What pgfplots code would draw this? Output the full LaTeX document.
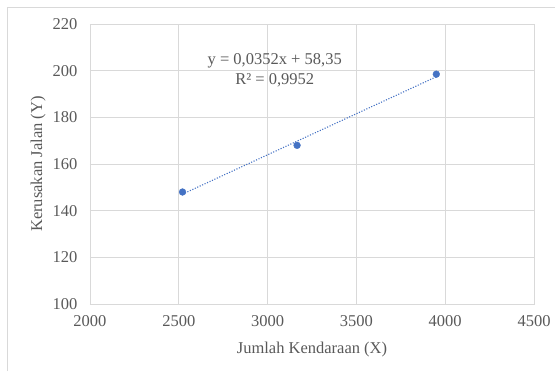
\documentclass[border=0pt]{standalone}
\usepackage{pgfplots}
\pgfplotsset{compat=1.18}
\usepackage{fontspec}
\setmainfont{Liberation Serif}
\definecolor{txt}{HTML}{595959}
\definecolor{grd}{HTML}{D9D9D9}
\definecolor{blu}{HTML}{4472C4}
\begin{document}
\begin{tikzpicture}
\path[use as bounding box] (-90pt,-68pt) rectangle (466pt,304pt);
\draw[grd, line width=0.8pt] (-83pt,-67pt) -- (-83pt,297pt) -- (465pt,297pt);
\begin{axis}[
  at={(0,0)}, anchor=south west,
  scale only axis, width=444pt, height=280pt,
  xmin=2000, xmax=4500, ymin=100, ymax=220,
  xtick={2000,2500,...,4500}, ytick={100,120,...,220},
  grid=major, major grid style={grd, line width=0.9pt},
  axis line style={grd, line width=0.9pt},
  tick style={draw=none},
  ticklabel style={font=\fontsize{16.5}{19}\selectfont, text=txt},
  /pgf/number format/assume math mode=true,
  /pgf/number format/set thousands separator={},
  xticklabel style={yshift=-8pt},
  yticklabel style={xshift=-9pt},
  label style={font=\fontsize{16.5}{19}\selectfont, text=txt},
  xlabel={Jumlah Kendaraan (X)},
  ylabel={Kerusakan Jalan (Y)},
  xlabel style={at={(axis description cs:0.5,-0.161)}, anchor=center},
  ylabel style={at={(axis description cs:-0.117,0.5)}, anchor=center},
  clip=false,
]
\addplot[blu, line width=1.1pt, dash pattern=on 1.1pt off 1.6pt] coordinates {(2521,147.09) (3950,197.39)};
\addplot[only marks, mark=*, mark size=3.4pt, blu, mark options={fill=blu, draw=blu, solid}] coordinates {(2521,148) (3166,168) (3950,198.5)};
\node[font=\fontsize{16.5}{20}\selectfont, text=txt, align=center] at (axis cs:3040,200.3) {y = 0,0352x + 58,35\\R² = 0,9952};
\end{axis}
\end{tikzpicture}
\end{document}
